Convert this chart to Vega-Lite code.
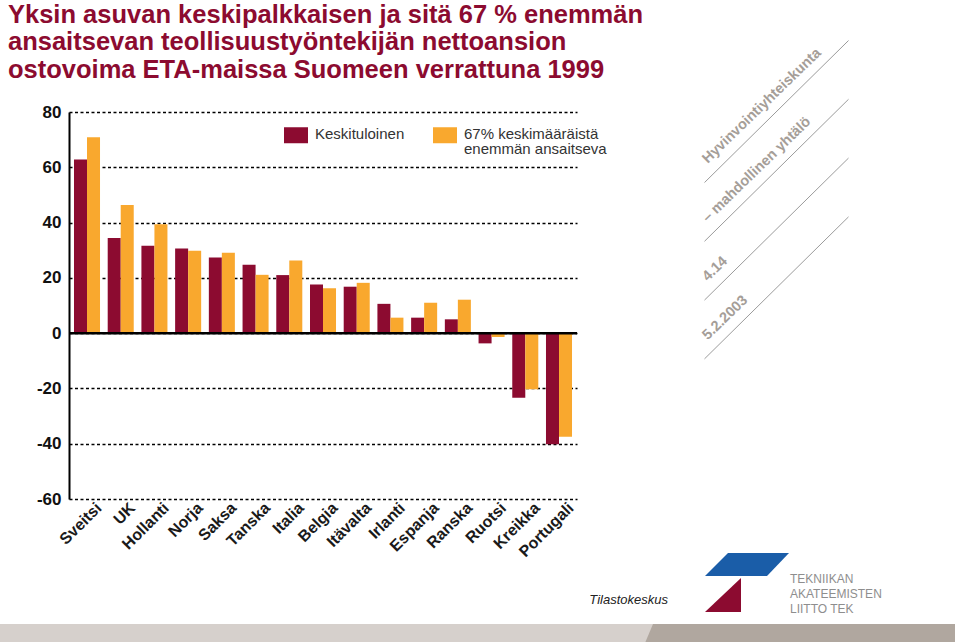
{
  "$schema": "https://vega.github.io/schema/vega-lite/v6.json",
  "background": "white",
  "padding": {"left": 0, "top": 2, "right": 0, "bottom": 0},
  "bounds": "flush",
  "center": true,
  "columns": 2,
  "spacing": {"row": 0, "column": 19.5},
  "resolve": {"scale": {"color": "independent", "shape": "independent"}, "legend": {"color": "independent", "shape": "independent"}},
  "config": {"view": {"stroke": null}, "font": "Liberation Sans"},
  "datasets": {
    "wages": [
      {"country": "Sveitsi", "series": "Keskituloinen", "value": 62.8},
      {"country": "Sveitsi", "series": "67% keskimääräistä enemmän ansaitseva", "value": 70.9},
      {"country": "UK", "series": "Keskituloinen", "value": 34.4},
      {"country": "UK", "series": "67% keskimääräistä enemmän ansaitseva", "value": 46.4},
      {"country": "Hollanti", "series": "Keskituloinen", "value": 31.6},
      {"country": "Hollanti", "series": "67% keskimääräistä enemmän ansaitseva", "value": 39.4},
      {"country": "Norja", "series": "Keskituloinen", "value": 30.6},
      {"country": "Norja", "series": "67% keskimääräistä enemmän ansaitseva", "value": 29.8},
      {"country": "Saksa", "series": "Keskituloinen", "value": 27.4},
      {"country": "Saksa", "series": "67% keskimääräistä enemmän ansaitseva", "value": 29.1},
      {"country": "Tanska", "series": "Keskituloinen", "value": 24.7},
      {"country": "Tanska", "series": "67% keskimääräistä enemmän ansaitseva", "value": 21.1},
      {"country": "Italia", "series": "Keskituloinen", "value": 21.0},
      {"country": "Italia", "series": "67% keskimääräistä enemmän ansaitseva", "value": 26.3},
      {"country": "Belgia", "series": "Keskituloinen", "value": 17.6},
      {"country": "Belgia", "series": "67% keskimääräistä enemmän ansaitseva", "value": 16.2},
      {"country": "Itävalta", "series": "Keskituloinen", "value": 16.8},
      {"country": "Itävalta", "series": "67% keskimääräistä enemmän ansaitseva", "value": 18.2},
      {"country": "Irlanti", "series": "Keskituloinen", "value": 10.6},
      {"country": "Irlanti", "series": "67% keskimääräistä enemmän ansaitseva", "value": 5.6},
      {"country": "Espanja", "series": "Keskituloinen", "value": 5.6},
      {"country": "Espanja", "series": "67% keskimääräistä enemmän ansaitseva", "value": 11.0},
      {"country": "Ranska", "series": "Keskituloinen", "value": 5.0},
      {"country": "Ranska", "series": "67% keskimääräistä enemmän ansaitseva", "value": 12.1},
      {"country": "Ruotsi", "series": "Keskituloinen", "value": -3.7},
      {"country": "Ruotsi", "series": "67% keskimääräistä enemmän ansaitseva", "value": -1.4},
      {"country": "Kreikka", "series": "Keskituloinen", "value": -23.4},
      {"country": "Kreikka", "series": "67% keskimääräistä enemmän ansaitseva", "value": -20.3},
      {"country": "Portugali", "series": "Keskituloinen", "value": -40.2},
      {"country": "Portugali", "series": "67% keskimääräistä enemmän ansaitseva", "value": -37.5}
    ],
    "side": [
      {"order": 1, "label": "Hyvinvointiyhteiskunta"},
      {"order": 2, "label": "– mahdollinen yhtälö"},
      {"order": 3, "label": "4.14"},
      {"order": 4, "label": "5.2.2003"}
    ],
    "logo": [
      {"part": "strip"},
      {"part": "roof"},
      {"part": "stem"}
    ],
    "credits": [
      {"source": "Tilastokeskus", "org": ["TEKNIIKAN", "AKATEEMISTEN", "LIITTO TEK"]}
    ]
  },
  "concat": [
    {
      "width": 508,
      "height": 387,
      "title": {
        "text": ["Yksin asuvan keskipalkkaisen ja sitä 67 % enemmän", "ansaitsevan teollisuustyöntekijän nettoansion", "ostovoima ETA-maissa Suomeen verrattuna 1999"],
        "anchor": "start",
        "frame": "group",
        "dx": -61,
        "offset": 20,
        "fontSize": 25.5,
        "fontWeight": "bold",
        "color": "#8C0B30",
        "lineHeight": 27.5,
        "font": "Liberation Sans"
      },
      "layer": [
        {
          "data": {"name": "wages"},
          "mark": {"type": "bar"},
          "encoding": {
            "x": {
              "field": "country",
              "type": "nominal",
              "sort": null,
              "scale": {"paddingInner": 0.228, "paddingOuter": 0.148},
              "axis": {
                "title": null,
                "labelAngle": -45,
                "labelAlign": "right",
                "labelBaseline": "middle",
                "labelFontSize": 16,
                "labelFontWeight": "bold",
                "labelColor": "#1a1a1a",
                "labelPadding": 6,
                "labelOffset": 12,
                "labelOverlap": false,
                "domain": false,
                "ticks": false
              }
            },
            "xOffset": {"field": "series", "type": "nominal", "sort": ["Keskituloinen", "67% keskimääräistä enemmän ansaitseva"]},
            "y": {
              "field": "value",
              "type": "quantitative",
              "scale": {"domain": [-60, 80], "nice": false},
              "axis": {
                "title": null,
                "values": [-60, -40, -20, 0, 20, 40, 60, 80],
                "labelExpr": "'' + datum.value",
                "grid": true,
                "gridColor": "#000000",
                "gridDash": [3, 2.5],
                "gridWidth": 1.3,
                "domain": true,
                "domainColor": "#000000",
                "domainWidth": 2,
                "ticks": false,
                "labelFontSize": 17,
                "labelFontWeight": "bold",
                "labelColor": "#111111",
                "labelPadding": 8
              }
            },
            "color": {
              "field": "series",
              "type": "nominal",
              "sort": ["Keskituloinen", "67% keskimääräistä enemmän ansaitseva"],
              "scale": {"domain": ["Keskituloinen", "67% keskimääräistä enemmän ansaitseva"], "range": ["#8C0B30", "#F9A82E"]},
              "legend": {
                "title": null,
                "orient": "none",
                "legendX": 215,
                "legendY": 19,
                "direction": "horizontal",
                "symbolType": "M-1,-1.5L2,-1.5L2,0.5L-1,0.5Z",
                "symbolSize": 256,
                "symbolStrokeWidth": 0,
                "symbolOpacity": 1,
                "labelFontSize": 15,
                "labelColor": "#333333",
                "labelBaseline": "alphabetic",
                "labelOffset": 15,
                "columnPadding": 28,
                "labelLimit": 300,
                "padding": 0,
                "labelExpr": "datum.label == 'Keskituloinen' ? ['Keskituloinen', ''] : ['67% keskimääräistä', 'enemmän ansaitseva']",
                "encode": {"labels": {"update": {"lineHeight": {"value": 14.5}}}}
              }
            }
          }
        },
        {
          "data": {"values": [{"level": 0}]},
          "mark": {"type": "rule", "color": "#000000", "strokeWidth": 2.5},
          "encoding": {"y": {"field": "level", "type": "quantitative"}}
        }
      ]
    },
    {
      "width": 360,
      "height": 529,
      "data": {"name": "side"},
      "encoding": {
        "y": {"field": "order", "type": "ordinal", "scale": {"type": "point", "domain": [0, 1, 2, 3, 4, 5, 6, 7, 8], "padding": 0.5, "align": 0.2}, "axis": null}
      },
      "layer": [
        {"mark": {"type": "point", "shape": "M-72,71L72,-71", "size": 4, "filled": false, "stroke": "#9B9B9B", "strokeWidth": 1, "opacity": 1}},
        {"mark": {"type": "text", "angle": -44, "align": "left", "baseline": "alphabetic", "dx": -86, "dy": -10, "fontSize": 14.5, "fontWeight": "bold", "color": "#A59E98"}, "encoding": {"text": {"field": "label"}}}
      ]
    },
    {
      "width": 508,
      "height": 73,
      "data": {"values": [{"part": "band"}]},
      "mark": {"type": "point", "shape": "M-323,17.5L337,17.5L337,36.5L-323,36.5Z", "size": 4, "filled": true, "color": "#D6D0CC", "opacity": 1, "strokeWidth": 0},
      "encoding": {}
    },
    {
      "width": 360,
      "height": 73,
      "layer": [
        {
          "data": {"name": "logo"},
          "mark": {"type": "point", "size": 4, "filled": true, "opacity": 1, "strokeWidth": 0},
          "encoding": {
            "shape": {"field": "part", "type": "nominal", "scale": {"domain": ["strip", "roof", "stem"], "range": ["M-123.5,17.5L178.5,17.5L178.5,36.5L-131.5,36.5Z", "M-48.5,-53.5L12.5,-53.5L-9.5,-30.5L-71.5,-30.5Z", "M-35.5,-28.5L-35.5,5.5L-71.5,5.5Z"]}, "legend": null},
            "color": {"field": "part", "type": "nominal", "scale": {"domain": ["strip", "roof", "stem"], "range": ["#B0A79F", "#1A5DA8", "#8C0B30"]}, "legend": null}
          }
        },
        {
          "data": {"name": "credits"},
          "mark": {"type": "text", "align": "right", "baseline": "alphabetic", "dx": -108.5, "dy": -2.5, "fontSize": 13, "fontStyle": "italic", "color": "#222222"},
          "encoding": {"text": {"field": "source"}}
        },
        {
          "data": {"name": "credits"},
          "mark": {"type": "text", "align": "left", "baseline": "alphabetic", "dx": 13.5, "dy": -23.8, "fontSize": 12, "lineHeight": 15, "color": "#8E8E8E"},
          "encoding": {"text": {"field": "org"}}
        }
      ]
    }
  ]
}
